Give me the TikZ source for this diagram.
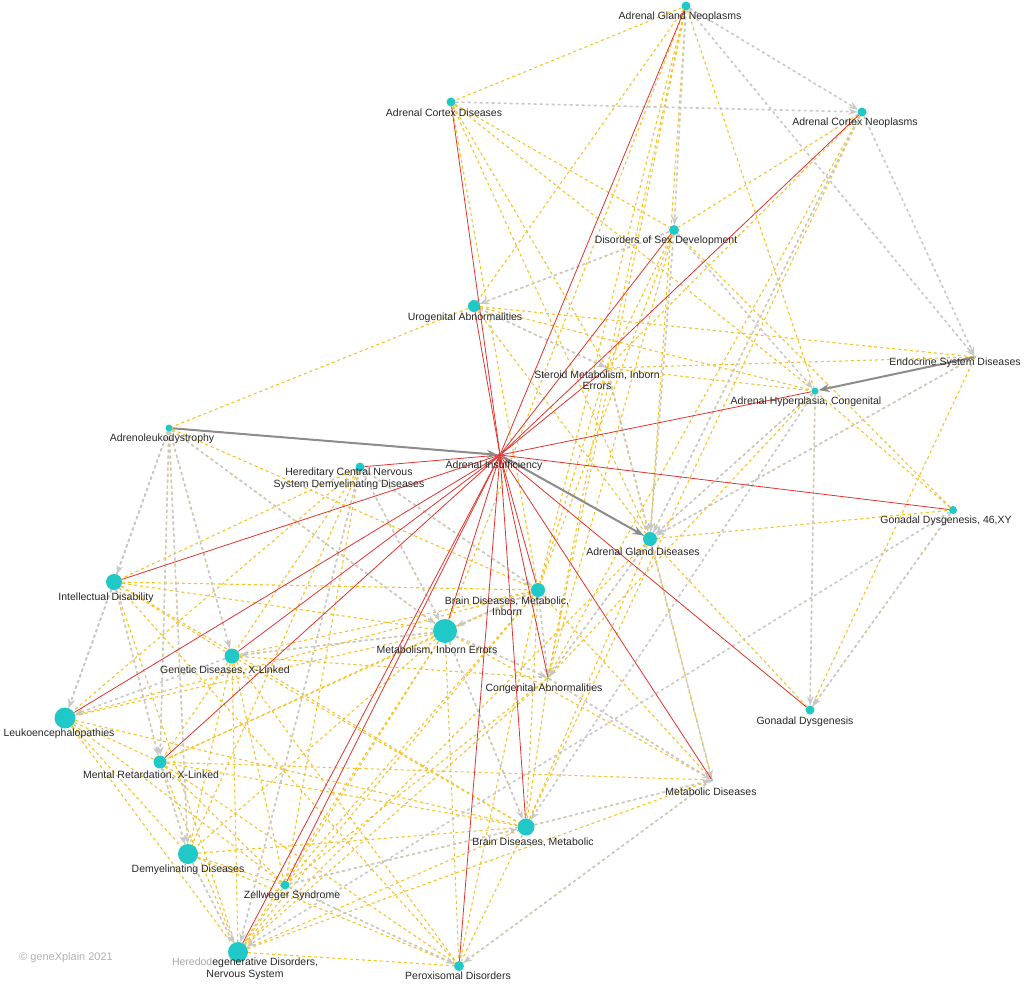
\documentclass[tikz,border=0pt]{standalone}
\usepackage{fontspec}
\setmainfont{Liberation Sans}
\usetikzlibrary{arrows.meta,backgrounds}
\definecolor{nodecyan}{RGB}{32,200,200}
\definecolor{edgered}{RGB}{225,50,45}
\definecolor{edgeyel}{RGB}{245,195,40}
\definecolor{edgegray}{RGB}{200,200,200}
\tikzset{
  dis/.style={circle, fill=nodecyan, inner sep=0pt, minimum size=#1},
  dis/.default=10pt,
  lbl/.style={font=\fontsize{10.5}{11.5}\selectfont, text=black!85, align=center, inner sep=1pt},
  red edge/.style={draw=edgered, line width=0.8pt},
  yel edge/.style={draw=edgeyel, dashed, line width=1.1pt},
  gray edge/.style={draw=edgegray, dashed, line width=1.6pt, -{Stealth[length=9pt]}},
  heavy edge/.style={draw=black!45, line width=2pt, -{Stealth[length=11pt]}},
}
\begin{document}
\begin{tikzpicture}[x=1pt, y=-1pt]
	\useasboundingbox (0,0) rectangle (1024,983);
	% Knoten
	\node[dis=9pt] (agn) at (686,6) {};
	\node[dis=9pt] (acd) at (451,102) {};
	\node[dis=9pt] (acn) at (862,112) {};
	\node[dis=10pt] (dsd) at (674,230) {};
	\node[dis=12pt] (ua) at (474,306) {};
	\node[dis=2pt] (esd) at (975,357) {};
	\node[dis=2pt] (smi) at (607,368) {};
	\node[dis=7pt] (ahc) at (815,391) {};
	\node[dis=7pt] (ald) at (169,428) {};
	\node[circle, fill=edgered, inner sep=0pt, minimum size=4pt] (ai) at (500,455) {};
	\node[dis=9pt] (hcn) at (360,467) {};
	\node[dis=8pt] (gdxy) at (953,510) {};
	\node[dis=14pt] (agd) at (650,539) {};
	\node[dis=16pt] (id) at (114,582) {};
	\node[dis=14pt] (bdmi) at (538,590) {};
	\node[dis=24pt] (mie) at (445,631) {};
	\node[dis=15pt] (gdx) at (232,656) {};
	\node[dis=2pt] (ca) at (548,678) {};
	\node[dis=9pt] (gd) at (810,710) {};
	\node[dis=21pt] (le) at (65,718) {};
	\node[dis=13pt] (mrx) at (160,762) {};
	\node[dis=2pt] (md) at (712,780) {};
	\node[dis=17pt] (bdm) at (526,827) {};
	\node[dis=20pt] (dd) at (188,854) {};
	\node[dis=9pt] (zs) at (285,885) {};
	\node[dis=20pt] (hnd) at (238,952) {};
	\node[dis=10pt] (pd) at (459,966) {};
	\begin{scope}[on background layer]
	% gelbe Kanten
	\foreach \a/\b in {agn/acd, agn/ua, agn/smi, agn/agd, agn/bdmi, agn/ahc, agn/ca, agn/mie,
		acd/dsd, acd/smi, acd/agd, acd/ahc, acd/bdmi, acn/dsd, acn/smi, acn/agd, acn/ca, acn/bdm,
		dsd/ua, dsd/smi, dsd/agd, dsd/bdmi, dsd/ca, ua/esd, ua/ahc, ua/smi, ua/agd, ua/ald,
		esd/smi, esd/agd, esd/gd, smi/ahc, smi/agd, smi/bdmi, smi/ca, smi/md, ahc/agd, ahc/ca, ahc/gd,
		ald/id, ald/gdx, ald/mie, ald/mrx, ald/dd, ald/bdmi, hcn/id, hcn/gdx, hcn/mie, hcn/bdmi, hcn/dd,
		hcn/hnd, hcn/zs, hcn/le, id/gdx, id/mie, id/bdmi, id/bdm, id/mrx, id/le, id/hnd, id/pd,
		gdx/mie, gdx/bdmi, gdx/mrx, gdx/dd, gdx/zs, gdx/hnd, gdx/bdm, gdx/pd, gdx/ca,
		mie/bdmi, mie/bdm, mie/ca, mie/md, mie/zs, mie/hnd, mie/pd, mie/le, mie/mrx, mie/dd,
		bdmi/bdm, bdmi/zs, bdmi/hnd, bdmi/pd, bdmi/md, bdmi/le, bdmi/mrx, ca/bdm, ca/zs, ca/hnd, ca/md,
		le/mrx, le/dd, le/hnd, le/bdm, le/zs, mrx/dd, mrx/hnd, mrx/zs, mrx/bdm, mrx/pd, mrx/md,
		dd/hnd, dd/zs, dd/bdm, dd/pd, zs/hnd, zs/pd, zs/bdm, hnd/pd, hnd/bdm, hnd/md, bdm/pd, bdm/md,
		agd/bdm, agd/ca, agd/gdxy, agd/hnd, gdxy/ahc, gdxy/gd, gdxy/dsd, md/pd, gd/agd}
		\draw[yel edge] (\a) -- (\b);
	% graue Kanten
	\foreach \a/\b in {agn/acn, acd/acn, agn/dsd, acn/agd, dsd/ua, acn/esd, agn/esd, dsd/ahc, dsd/agd,
		smi/agd, ahc/agd, esd/agd, ua/smi, gdxy/gd, ahc/gd, ald/id, ald/le, ald/mrx, ald/gdx, ald/dd, ald/mie,
		hcn/mie, hcn/bdmi, id/le, id/mrx, mrx/dd, hcn/hnd, bdmi/mie, mie/bdm, mie/ca, ca/md, bdmi/ca,
		zs/bdm, zs/pd, dd/hnd, gdx/le, mie/gdx, bdm/md, gdxy/hnd, agd/ca, agd/md, md/pd, ahc/bdm}
		\draw[gray edge] (\a) -- (\b);
	% rote Kanten
	\foreach \b in {agn, acd, acn, dsd, ua, smi, ahc, ald, hcn, gdxy, agd, id, bdmi, mie, gdx,
		ca, gd, le, mrx, md, bdm, zs, hnd, pd}
		\draw[red edge] (ai) -- (\b);
	% dicke Pfeile
	\draw[heavy edge] (ald) -- (ai);
	\draw[heavy edge] (ai) -- (agd);
	\draw[heavy edge] (esd) -- (ahc);
	\end{scope}
	% Beschriftungen
	\node[lbl] (agnl) at (680,17) {Adrenal Gland Neoplasms};
	\node[lbl] (acdl) at (444,113) {Adrenal Cortex Diseases};
	\node[lbl] (acnl) at (855,123) {Adrenal Cortex Neoplasms};
	\node[lbl] (dsdl) at (666,241) {Disorders of Sex Development};
	\node[lbl] (ual) at (465,318) {Urogenital Abnormalities};
	\node[lbl] (esdl) at (955,363) {Endocrine System Diseases};
	\node[lbl] (smil) at (597,380) {Steroid Metabolism, Inborn\\Errors};
	\node[lbl] (ahcl) at (806,402) {Adrenal Hyperplasia, Congenital};
	\node[lbl] (aldl) at (162,439) {Adrenoleukodystrophy};
	\node[lbl] (ail) at (494,466) {Adrenal Insufficiency};
	\node[lbl] (hcnl) at (349,479) {Hereditary Central Nervous\\System Demyelinating Diseases};
	\node[lbl] (gdxyl) at (946,521) {Gonadal Dysgenesis, 46,XY};
	\node[lbl] (agdl) at (643,552) {Adrenal Gland Diseases};
	\node[lbl] (idl) at (106,598) {Intellectual Disability};
	\node[lbl] (bdmil) at (507,606) {Brain Diseases, Metabolic,\\Inborn};
	\node[lbl] (miel) at (437,650) {Metabolism, Inborn Errors};
	\node[lbl] (gdxl) at (225,670) {Genetic Diseases, X-Linked};
	\node[lbl] (cal) at (544,689) {Congenital Abnormalities};
	\node[lbl] (gdl) at (805,722) {Gonadal Dysgenesis};
	\node[lbl] (lel) at (59,734) {Leukoencephalopathies};
	\node[lbl] (mrxl) at (151,775) {Mental Retardation, X-Linked};
	\node[lbl] (mdl) at (711,792) {Metabolic Diseases};
	\node[lbl] (bdml) at (533,842) {Brain Diseases, Metabolic};
	\node[lbl] (ddl) at (188,870) {Demyelinating Diseases};
	\node[lbl] (zsl) at (292,896) {Zellweger Syndrome};
	\node[lbl] (hndl) at (245,969) {\textcolor{black!35}{Heredod}egenerative Disorders,\\Nervous System};
	\node[lbl] (pdl) at (458,976) {Peroxisomal Disorders};
	\node[lbl, text=black!30, font=\fontsize{11}{12}\selectfont] (copy) at (66,958) {© geneXplain 2021};
\end{tikzpicture}
\end{document}
